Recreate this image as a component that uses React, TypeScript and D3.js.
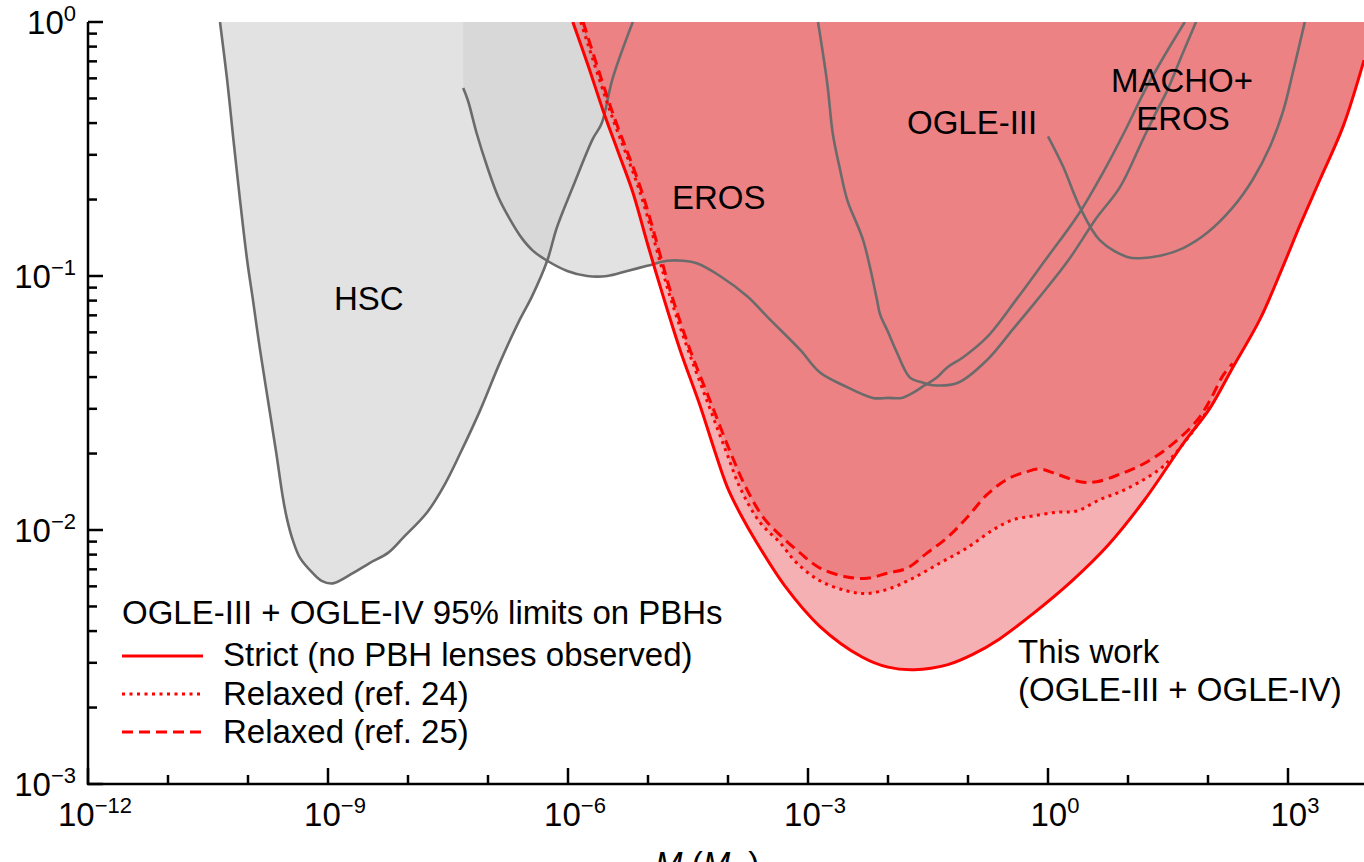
import React from 'react';
import * as d3 from 'd3';

type P = [number, number]; // [log10 M, log10 f]

// Previous constraints (gray)
const hscCurve: P[] = [
  [-10.35, 0], [-10.26, -0.23], [-10.19, -0.44], [-10.1, -0.7], [-10.01, -0.94], [-9.94, -1.09],
  [-9.85, -1.29], [-9.75, -1.49], [-9.65, -1.69], [-9.56, -1.88], [-9.51, -1.96], [-9.44, -2.04],
  [-9.35, -2.11], [-9.19, -2.17], [-9.08, -2.2], [-8.94, -2.21], [-8.69, -2.17], [-8.48, -2.13],
  [-8.25, -2.09], [-8.06, -2.03], [-7.76, -1.93], [-7.54, -1.82], [-7.35, -1.7], [-7.1, -1.53],
  [-6.85, -1.34], [-6.6, -1.17], [-6.45, -1.08], [-6.26, -0.94], [-6.14, -0.81], [-5.94, -0.65],
  [-5.69, -0.46], [-5.58, -0.4], [-5.44, -0.22], [-5.19, 0],
];

const erosCurve: P[] = [
  [-7.31, -0.26], [-7.25, -0.31], [-7.14, -0.44], [-7.01, -0.57], [-6.87, -0.69], [-6.72, -0.78],
  [-6.58, -0.85], [-6.44, -0.9], [-6.26, -0.94], [-6.01, -0.98], [-5.76, -1.0], [-5.51, -1.0],
  [-5.26, -0.98], [-5.01, -0.96], [-4.76, -0.94], [-4.56, -0.94], [-4.39, -0.95], [-4.1, -1.0],
  [-3.76, -1.08], [-3.48, -1.17], [-3.1, -1.29], [-2.85, -1.38], [-2.56, -1.43], [-2.19, -1.48],
  [-2.0, -1.48], [-1.83, -1.48], [-1.69, -1.46], [-1.54, -1.43], [-1.39, -1.4], [-1.26, -1.36],
  [-1.06, -1.32], [-0.76, -1.24], [-0.39, -1.09], [-0.04, -0.94], [0.375, -0.76], [0.71, -0.58],
  [0.96, -0.43], [1.21, -0.27], [1.46, -0.13], [1.71, 0],
];

const ogle3Curve: P[] = [
  [-2.875, 0], [-2.76, -0.24], [-2.69, -0.44], [-2.6, -0.58], [-2.51, -0.7], [-2.31, -0.86],
  [-2.14, -1.09], [-2.1, -1.15], [-2.0, -1.22], [-1.89, -1.3], [-1.725, -1.4], [-1.56, -1.42],
  [-1.44, -1.43], [-1.125, -1.42], [-0.76, -1.33], [-0.44, -1.21], [-0.125, -1.09], [0.25, -0.94],
  [0.61, -0.77], [0.9, -0.65], [1.19, -0.46], [1.36, -0.35], [1.49, -0.27], [1.675, -0.13], [1.85, 0],
];

const machoErosCurve: P[] = [
  [0.0, -0.45], [0.19, -0.57], [0.4, -0.73], [0.65, -0.86], [0.99, -0.925], [1.15, -0.93],
  [1.4, -0.92], [1.69, -0.89], [1.99, -0.83], [2.31, -0.73], [2.56, -0.62], [2.775, -0.49],
  [2.94, -0.35], [3.06, -0.2], [3.21, 0],
];

// This work
const strictCurve: P[] = [
  [-5.94, 0], [-5.75, -0.17], [-5.56, -0.35], [-5.375, -0.51], [-5.19, -0.67], [-5.0, -0.88],
  [-4.81, -1.08], [-4.6, -1.29], [-4.35, -1.51], [-4.175, -1.68], [-4.01, -1.83], [-3.84, -1.94],
  [-3.64, -2.05], [-3.29, -2.22], [-2.85, -2.38], [-2.325, -2.5], [-2.0, -2.54], [-1.675, -2.55],
  [-1.25, -2.53], [-0.94, -2.49], [-0.61, -2.43], [-0.19, -2.33], [0.3, -2.2], [0.75, -2.06],
  [1.21, -1.88], [1.69, -1.66], [2.025, -1.52], [2.31, -1.36], [2.65, -1.17], [2.94, -0.96],
  [3.15, -0.8], [3.4, -0.62], [3.69, -0.41], [3.95, -0.15],
];

const relaxed24Curve: P[] = [
  [-5.84, 0], [-5.475, -0.35], [-5.1, -0.67], [-4.725, -1.08], [-4.5, -1.29], [-4.24, -1.51],
  [-4.025, -1.69], [-3.84, -1.84], [-3.6, -1.97], [-3.35, -2.05], [-3.14, -2.13], [-2.85, -2.2],
  [-2.51, -2.24], [-2.26, -2.25], [-1.975, -2.23], [-1.69, -2.19], [-1.35, -2.13], [-1.01, -2.07],
  [-0.69, -2.0], [-0.44, -1.96], [-0.19, -1.945], [0.11, -1.93], [0.36, -1.925], [0.65, -1.88],
  [0.9, -1.85], [1.15, -1.81], [1.4, -1.76], [1.56, -1.71], [1.79, -1.62], [2.025, -1.515],
  [2.31, -1.355], [2.65, -1.165], [2.94, -0.955], [3.15, -0.795], [3.4, -0.615], [3.69, -0.405], [3.95, -0.145],
];

const relaxed25Curve: P[] = [
  [-5.81, 0], [-5.45, -0.35], [-5.075, -0.67], [-4.7, -1.08], [-4.475, -1.29], [-4.2, -1.51],
  [-3.975, -1.69], [-3.78, -1.83], [-3.56, -1.95], [-3.35, -2.02], [-3.1, -2.09], [-2.85, -2.15],
  [-2.51, -2.185], [-2.26, -2.19], [-2.01, -2.17], [-1.76, -2.15], [-1.51, -2.09], [-1.26, -2.03],
  [-1.01, -1.95], [-0.76, -1.86], [-0.51, -1.8], [-0.26, -1.77], [-0.1, -1.76], [0.11, -1.78],
  [0.4, -1.81], [0.61, -1.81], [0.9, -1.78], [1.19, -1.74], [1.525, -1.67], [1.86, -1.57],
  [2.025, -1.49], [2.19, -1.39], [2.31, -1.345], [2.65, -1.155], [2.94, -0.95], [3.15, -0.79],
  [3.4, -0.61], [3.69, -0.4], [3.95, -0.14],
];

// where the relaxed limits merge into the strict one (stroke ends there)
const relaxed24MergeM = 2.05;
const relaxed25MergeM = 2.35;

const xDecades = [-12, -11, -10, -9, -8, -7, -6, -5, -4, -3, -2, -1, 0, 1, 2, 3];
const xLabelDecades = [-12, -9, -6, -3, 0, 3];
const yDecades = [-3, -2, -1, 0];
const minorMultipliers = [2, 3, 4, 5, 6, 7, 8, 9];

const legendTitle = 'OGLE-III + OGLE-IV 95% limits on PBHs';
const legendItems = [
  { label: 'Strict (no PBH lenses observed)', dash: 'none' },
  { label: 'Relaxed (ref. 24)', dash: '3,4.5' },
  { label: 'Relaxed (ref. 25)', dash: '11,6' },
];

const FONT = '"Liberation Sans", Arial, Helvetica, sans-serif';
const GRAY_LINE = '#6b6b6b';
const RED = '#ff0000';
const RED_FILL = 'rgb(225,40,45)';

function supLabel(exp: number) {
  return exp < 0 ? `\u2212${-exp}` : `${exp}`;
}

export default function App() {
  const W = 1364;
  const H = 862;
  const left = 88, right = 1364, top = 22, bottom = 784;
  const x = d3.scaleLog().domain([1e-12, Math.pow(10, 3.95)]).range([left, right]);
  const y = d3.scaleLog().domain([1e-3, 1]).range([bottom, top]);

  const toPx = (pts: P[]) => pts.map(([lm, lf]) => [x(Math.pow(10, lm)), y(Math.pow(10, lf))] as [number, number]);
  const line = d3.line<[number, number]>().curve(d3.curveCatmullRom.alpha(0.5));
  const curvePath = (pts: P[]) => line(toPx(pts)) as string;
  const regionAbove = (pts: P[]) => {
    const px = toPx(pts);
    const first = px[0];
    const last = px[px.length - 1];
    return curvePath(pts) + `L${last[0] + 80},-200L${first[0]},-200Z`;
  };

  const hscFill = curvePath(hscCurve) + 'Z';
  const erosFill = `M${x(Math.pow(10, erosCurve[0][0]))},${y(1)}` + curvePath(erosCurve).replace(/^M/, 'L') + 'Z';
  const grayClip = 'M-100,-400H1700V1100H-100Z' + regionAbove(relaxed25Curve);

  const tickLabelSize = 33;
  const supSize = 22;
  const fs = 33;

  return (
    <svg width={W} height={H} style={{ position: 'absolute', left: 0, top: 0, background: '#fff' }} fontFamily={FONT}>
      <defs>
        <clipPath id="plotClip">
          <rect x={left} y={top} width={right - left} height={bottom - top} />
        </clipPath>
        <clipPath id="grayClip">
          <path d={grayClip} clipRule="evenodd" />
        </clipPath>
      </defs>

      <g clipPath="url(#plotClip)">
        <g clipPath="url(#grayClip)">
          <path d={hscFill} fill="rgb(211,211,211)" fillOpacity={0.655} />
          <path d={erosFill} fill="rgb(211,211,211)" fillOpacity={0.655} />
        </g>
        <path d={regionAbove(strictCurve)} fill={RED_FILL} fillOpacity={0.37} />
        <path d={regionAbove(relaxed24Curve)} fill={RED_FILL} fillOpacity={0.2} />
        <path d={regionAbove(relaxed25Curve)} fill={RED_FILL} fillOpacity={0.167} />

        {[hscCurve, erosCurve, ogle3Curve, machoErosCurve].map((c, i) => (
          <path key={i} d={curvePath(c)} fill="none" stroke={GRAY_LINE} strokeWidth={2.6} strokeLinejoin="round" />
        ))}

        <path d={curvePath(relaxed24Curve.filter((p) => p[0] <= relaxed24MergeM))} fill="none" stroke={RED} strokeWidth={3} strokeDasharray="3,4.5" />
        <path d={curvePath(relaxed25Curve.filter((p) => p[0] <= relaxed25MergeM))} fill="none" stroke={RED} strokeWidth={3} strokeDasharray="11,6" />
        <path d={curvePath(strictCurve)} fill="none" stroke={RED} strokeWidth={3} />
      </g>

      {/* region labels */}
      <g fontSize={fs} fill="#000">
        <text x={334} y={310}>HSC</text>
        <text x={672} y={209}>EROS</text>
        <text x={907} y={134}>OGLE-III</text>
        <text x={1182} y={92} textAnchor="middle">MACHO+</text>
        <text x={1183} y={130} textAnchor="middle">EROS</text>
        <text x={1018} y={663}>This work</text>
        <text x={1018} y={701}>(OGLE-III + OGLE-IV)</text>
      </g>

      {/* legend */}
      <g fontSize={fs} fill="#000">
        <text x={122} y={624}>{legendTitle}</text>
        {legendItems.map((it, i) => {
          const yy = [656, 694, 732][i];
          const base = [666, 705, 743][i];
          return (
            <g key={i}>
              <line x1={122} x2={203} y1={yy} y2={yy} stroke={RED} strokeWidth={3}
                strokeDasharray={it.dash === 'none' ? undefined : it.dash} />
              <text x={223} y={base}>{it.label}</text>
            </g>
          );
        })}
      </g>

      {/* axes */}
      <g stroke="#000" strokeWidth={2.5}>
        <line x1={left} x2={left} y1={top} y2={bottom + 1} />
        <line x1={left - 1} x2={right} y1={bottom} y2={bottom} />
        {yDecades.map((d) => (
          <line key={`ym${d}`} x1={left} x2={left + 15} y1={y(Math.pow(10, d))} y2={y(Math.pow(10, d))} />
        ))}
        {yDecades.filter((d) => d < 0).flatMap((d) =>
          minorMultipliers.map((k) => {
            const v = k * Math.pow(10, d);
            return <line key={`yn${d}_${k}`} x1={left} x2={left + 9} y1={y(v)} y2={y(v)} />;
          })
        )}
        {xDecades.map((d) => {
          const major = d % 3 === 0;
          const xx = x(Math.pow(10, d));
          return <line key={`x${d}`} x1={xx} x2={xx} y1={bottom} y2={bottom - (major ? 16 : 9)} />;
        })}
      </g>

      <g fontSize={tickLabelSize} fill="#000">
        {yDecades.map((d) => (
          <text key={`yl${d}`} x={76} y={y(Math.pow(10, d)) + 12} textAnchor="end">
            10<tspan fontSize={supSize} dy={-13}>{supLabel(d)}</tspan>
          </text>
        ))}
        {xLabelDecades.map((d) => (
          <text key={`xl${d}`} x={x(Math.pow(10, d)) + 7} y={826} textAnchor="middle">
            10<tspan fontSize={supSize} dy={-13}>{supLabel(d)}</tspan>
          </text>
        ))}
        <text x={655} y={875}>
          <tspan fontStyle="italic">M</tspan> (<tspan fontStyle="italic">M</tspan>
          <tspan fontSize={22} dy={6}>{'\u2299'}</tspan>
          <tspan dy={-6}>)</tspan>
        </text>
      </g>
    </svg>
  );
}
